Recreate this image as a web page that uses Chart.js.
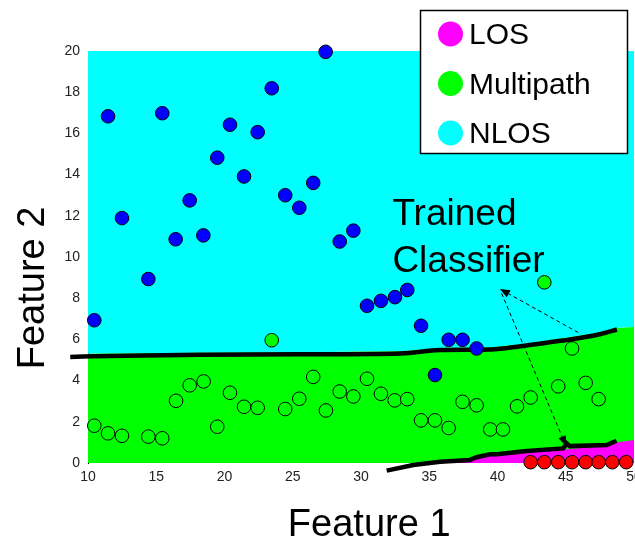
<!DOCTYPE html>
<html>
<head>
<meta charset="utf-8">
<script src="https://cdn.jsdelivr.net/npm/chart.js@4.4.1/dist/chart.umd.min.js"></script>
<style>
  html, body { margin: 0; padding: 0; background: #fff; }
  #wrap { width: 635px; height: 537px; }
</style>
</head>
<body>
<div id="wrap"><canvas id="classifierChart"></canvas></div>
<script>
// classes and their legend colours
let classLabels = ['LOS', 'Multipath', 'NLOS'];
let regionColors = ['#ff00ff', '#00ff00', '#00ffff'];
let axisTitles = ['Feature 1', 'Feature 2'];

// training points (Feature 1, Feature 2)
let losX = [42.43, 43.43, 44.45, 45.46, 46.46, 47.41, 48.41, 49.43];
let losY = [0.04, 0.04, 0.04, 0.04, 0.04, 0.04, 0.04, 0.04];

let multiX = [10.46, 11.47, 12.49, 14.42, 15.44, 16.45, 17.45, 18.47, 19.47, 20.4, 21.43, 22.43, 23.46, 24.45, 25.48, 26.5, 27.43, 28.44, 29.44, 30.44, 31.46, 32.47, 33.39, 34.4, 35.42, 36.42, 37.44, 38.47, 39.47, 40.4, 41.43, 42.43, 43.43, 44.45, 45.46, 46.46, 47.41];
let multiY = [1.81, 1.44, 1.32, 1.28, 1.2, 3.02, 3.77, 3.96, 1.76, 3.41, 2.73, 2.68, 5.96, 2.62, 3.12, 4.18, 2.55, 3.47, 3.23, 4.09, 3.36, 3.04, 3.1, 2.07, 2.07, 1.7, 2.97, 2.8, 1.63, 1.63, 2.75, 3.18, 8.77, 3.72, 5.56, 3.89, 3.1];

let nlosX = [10.46, 11.47, 12.49, 14.42, 15.44, 16.42, 17.45, 18.45, 19.47, 20.4, 21.43, 22.43, 23.46, 24.45, 25.48, 26.5, 27.41, 28.44, 29.44, 30.44, 31.46, 32.49, 33.39, 34.4, 35.42, 36.42, 37.44, 38.47];
let nlosY = [6.93, 16.83, 11.89, 8.93, 16.98, 10.86, 12.75, 11.05, 14.82, 16.42, 13.91, 16.06, 18.19, 13.0, 12.39, 13.6, 19.96, 10.75, 11.28, 7.63, 7.87, 8.05, 8.4, 6.66, 4.27, 5.98, 5.98, 5.56];

// trained classifier boundaries
let upperLineX = [8.7, 11.4, 18.2, 25.5, 32.9, 35.8, 39.5, 41.7, 44.6, 47.5, 48.75];
let upperLineY = [5.15, 5.2, 5.25, 5.28, 5.32, 5.48, 5.51, 5.67, 5.93, 6.25, 6.48];
let lowerLineX = [31.88, 33.83, 35.79, 37.98, 38.47, 39.45, 39.94, 42.14, 44.82, 45.07, 45.3, 47.99, 48.72];
let lowerLineY = [-0.37, -0.1, 0.06, 0.15, 0.28, 0.42, 0.42, 0.58, 0.71, 0.95, 0.82, 0.87, 1.08];

// edges of the coloured decision regions
let nlosEdgeX = [10, 18.2, 25.5, 32.9, 35.8, 39.5, 41.7, 44.6, 47.5, 48.75, 50];
let nlosEdgeY = [5.3, 5.35, 5.38, 5.42, 5.58, 5.61, 5.77, 6.03, 6.35, 6.55, 6.6];
let losEdgeX = [31.9, 33.8, 35.8, 38.0, 38.5, 39.5, 42.1, 44.8, 47.0, 48.7, 50];
let losEdgeY = [-0.4, -0.15, 0.0, 0.1, 0.22, 0.36, 0.52, 0.66, 0.78, 1.0, 1.12];

let xTicks = { min: 10, max: 50, step: 5 };
let yTicks = { min: 0, max: 20, step: 2 };

const fontFamily = '"Liberation Sans", Arial, sans-serif';

function pts(xs, ys) {
	return xs.map((x, i) => ({ x: x, y: ys[i] }));
}

function drawArrow(c, x1, y1, x2, y2) {
	let ang = Math.atan2(y2 - y1, x2 - x1);
	let head = 10;
	c.setLineDash([4, 3]);
	c.lineWidth = 1;
	c.beginPath();
	c.moveTo(x1, y1);
	c.lineTo(x2 - head * Math.cos(ang), y2 - head * Math.sin(ang));
	c.stroke();
	c.setLineDash([]);
	c.beginPath();
	c.moveTo(x2, y2);
	c.lineTo(x2 - head * Math.cos(ang) + 4 * Math.sin(ang), y2 - head * Math.sin(ang) - 4 * Math.cos(ang));
	c.lineTo(x2 - head * Math.cos(ang) - 4 * Math.sin(ang), y2 - head * Math.sin(ang) + 4 * Math.cos(ang));
	c.closePath();
	c.fill();
}

// "Trained Classifier" note with its two dashed arrows, plus the axis titles
let classifierNote = {
	id: 'classifierNote',
	afterDatasetsDraw(chart) {
		let c = chart.ctx, sx = chart.scales.x, sy = chart.scales.y;
		c.save();
		c.fillStyle = '#000';
		c.strokeStyle = '#000';
		c.font = '37px ' + fontFamily;
		c.textBaseline = 'alphabetic';
		c.fillText('Trained', sx.getPixelForValue(32.3), sy.getPixelForValue(11.55));
		c.fillText('Classifier', sx.getPixelForValue(32.3), sy.getPixelForValue(9.27));
		drawArrow(c, sx.getPixelForValue(45.92), sy.getPixelForValue(6.33), sx.getPixelForValue(40.18), sy.getPixelForValue(8.45));
		drawArrow(c, sx.getPixelForValue(40.3), sy.getPixelForValue(8.24), sx.getPixelForValue(45.02), sy.getPixelForValue(0.83));

		// axis titles (MATLAB puts them a little off the axis centre)
		c.font = '38px ' + fontFamily;
		c.textAlign = 'center';
		c.fillText(axisTitles[0], sx.getPixelForValue(30.6), 535.5);
		c.translate(43.5, sy.getPixelForValue(8.5));
		c.rotate(-Math.PI / 2);
		c.fillText(axisTitles[1], 0, 0);
		c.restore();
	}
};

// boxed legend in the top right corner
let boxLegend = {
	id: 'boxLegend',
	afterDraw(chart) {
		let c = chart.ctx;
		let left = chart.chartArea.right - 214, top = 10;
		c.save();
		c.fillStyle = '#fff';
		c.fillRect(left, top, 208, 143);
		c.strokeStyle = '#000';
		c.lineWidth = 1.5;
		c.strokeRect(left + 0.5, top + 0.5, 207, 143);
		c.font = '30px ' + fontFamily;
		c.textBaseline = 'middle';
		classLabels.forEach((lab, i) => {
			let y = top + 24 + i * 49.5;
			c.beginPath();
			c.arc(left + 30.5, y, 12.5, 0, Math.PI * 2);
			c.fillStyle = regionColors[i];
			c.fill();
			c.fillStyle = '#000';
			c.fillText(lab, left + 49, y + 2);
		});
		c.restore();
	}
};

let chart = new Chart(document.getElementById('classifierChart').getContext('2d'), {
	type: 'scatter',
	data: {
		datasets: [{
			label: classLabels[0],
			data: pts(losX, losY),
			backgroundColor: '#ff0000',
			borderColor: '#000',
			borderWidth: 1,
			pointRadius: 6.8,
			clip: false,
			order: 1
		}, {
			label: classLabels[1],
			data: pts(multiX, multiY),
			backgroundColor: '#00ff00',
			borderColor: '#000',
			borderWidth: 1,
			pointRadius: 6.8,
			clip: false,
			order: 1
		}, {
			label: classLabels[2],
			data: pts(nlosX, nlosY),
			backgroundColor: '#0000ff',
			borderColor: '#000',
			borderWidth: 1,
			pointRadius: 6.8,
			clip: false,
			order: 1
		}, {
			type: 'line',
			label: 'upper boundary',
			data: pts(upperLineX, upperLineY),
			borderColor: '#000',
			borderWidth: 4.5,
			pointRadius: 0,
			fill: false,
			cubicInterpolationMode: 'monotone',
			clip: false,
			order: 2
		}, {
			type: 'line',
			label: 'lower boundary',
			data: pts(lowerLineX, lowerLineY),
			borderColor: '#000',
			borderWidth: 4.5,
			pointRadius: 0,
			fill: false,
			clip: false,
			order: 2
		}, {
			type: 'line',
			label: 'LOS region',
			data: pts(losEdgeX, losEdgeY),
			borderWidth: 0,
			pointRadius: 0,
			backgroundColor: regionColors[0],
			fill: 'start',
			order: 3
		}, {
			type: 'line',
			label: 'Multipath region',
			data: pts(nlosEdgeX, nlosEdgeY),
			borderWidth: 0,
			pointRadius: 0,
			backgroundColor: regionColors[1],
			fill: 'start',
			order: 4
		}, {
			type: 'line',
			label: 'NLOS region',
			data: pts(nlosEdgeX, nlosEdgeY),
			borderWidth: 0,
			pointRadius: 0,
			backgroundColor: regionColors[2],
			fill: 'end',
			order: 5
		}]
	},
	options: {
		responsive: true,
		maintainAspectRatio: false,
		animation: false,
		events: [],
		layout: { autoPadding: false, padding: { top: 51, right: 1, left: 0, bottom: 0 } },
		plugins: {
			legend: { display: false },
			tooltip: { enabled: false }
		},
		scales: {
			x: {
				type: 'linear',
				min: xTicks.min,
				max: xTicks.max,
				afterFit(s) { s.height = 74; s.paddingLeft = 0; s.paddingRight = 0; },
				grid: { display: false, drawTicks: false },
				border: { display: false },
				ticks: { stepSize: xTicks.step, padding: 6, color: '#222', font: { size: 14, family: fontFamily } }
			},
			y: {
				min: yTicks.min,
				max: yTicks.max,
				afterFit(s) { s.width = 88; },
				grid: { display: false, drawTicks: false },
				border: { display: true, color: '#000', width: 1 },
				ticks: { stepSize: yTicks.step, padding: 8, color: '#222', font: { size: 14, family: fontFamily } }
			}
		}
	},
	plugins: [classifierNote, boxLegend]
});
</script>
</body>
</html>
